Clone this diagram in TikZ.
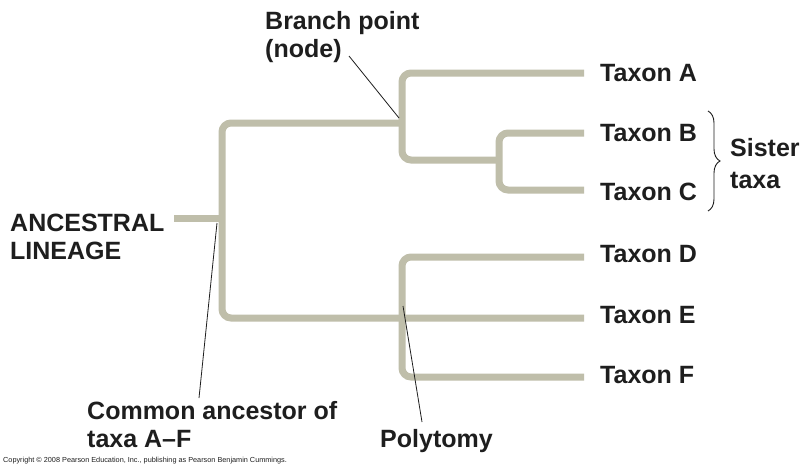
\documentclass[tikz,border=0pt]{standalone}
\usepackage{fontspec}
\setmainfont{Liberation Sans}
\usetikzlibrary{decorations.pathreplacing}
\definecolor{treegray}{RGB}{191,190,170}
\definecolor{ink}{RGB}{30,30,30}
\begin{document}
\begin{tikzpicture}[x=1pt,y=-1pt,
  branch/.style={draw=treegray, line width=7pt, rounded corners=9pt},
  lbl/.style={font=\fontsize{25}{28}\selectfont\bfseries, text=ink, inner sep=0pt, align=left},
  leader/.style={draw=ink, line width=0.8pt},
  bracestyle/.style={draw=ink, line width=0.9pt, decorate,
    decoration={brace, amplitude=12pt, aspect=0.5}}]
\useasboundingbox[fill=white] (0,0) rectangle (805,466);

% tree junctions and leaf ends
\coordinate (root)  at (174,218);
\coordinate (anc)   at (222,218);
\coordinate (ancT)  at (222,123);
\coordinate (ancB)  at (222,318);
\coordinate (nABC)  at (402,123);
\coordinate (nBC)   at (499,160);
\coordinate (nDEF)  at (402,318);
\coordinate (leafA) at (584,73);
\coordinate (leafB) at (584,133);
\coordinate (leafC) at (584,190);
\coordinate (leafD) at (584,257);
\coordinate (leafE) at (584,318);
\coordinate (leafF) at (584,377);

% ancestral lineage and the first split
\draw[branch] (root) -- (anc);
\draw[branch] (nABC) -- (ancT) -- (ancB) -- (leafE);
% clade A,(B,C)
\draw[branch] (leafA) -- (nABC |- leafA) -- (nABC |- nBC) -- (nBC);
\draw[branch] (leafB) -- (nBC |- leafB) -- (nBC |- leafC) -- (leafC);
% polytomy D, E, F
\draw[branch] (leafD) -- (nDEF |- leafD) -- (nDEF |- leafF) -- (leafF);

% taxon labels
\node[lbl, anchor=base west] (tA) at (600,81)  {Taxon A};
\node[lbl, anchor=base west] (tB) at (600,141) {Taxon B};
\node[lbl, anchor=base west] (tC) at (600,200) {Taxon C};
\node[lbl, anchor=base west] (tD) at (600,262) {Taxon D};
\node[lbl, anchor=base west] (tE) at (600,323) {Taxon E};
\node[lbl, anchor=base west] (tF) at (600,383) {Taxon F};

% sister taxa brace
\coordinate (braceTop) at (708,111);
\coordinate (braceBot) at (708,211);
\draw[bracestyle] (braceTop) -- (braceBot);
\node[lbl, anchor=base west] (sister) at (730,156) {Sister};
\node[lbl, anchor=base west] (taxa)   at (730,188) {taxa};

% annotations
\node[lbl, anchor=base west] (bp1) at (265,29) {Branch point};
\node[lbl, anchor=base west] (bp2) at (265,57) {(node)};
\node[lbl, anchor=base west] (al1) at (10,231) {ANCESTRAL};
\node[lbl, anchor=base west] (al2) at (10,259) {LINEAGE};
\node[lbl, anchor=base west] (ca1) at (87,419) {Common ancestor of};
\node[lbl, anchor=base west] (ca2) at (87,447) {taxa A--F};
\node[lbl, anchor=base west] (poly) at (380,447) {Polytomy};

% leader lines
\coordinate (bpStart)   at (349,56);
\coordinate (bpEnd)     at (399,118);
\coordinate (caStart)   at (199,398);
\coordinate (caEnd)     at (217,223);
\coordinate (polyStart) at (422,422);
\coordinate (polyEnd)   at (403,306);
\draw[leader] (bpStart) -- (bpEnd);
\draw[leader] (caStart) -- (caEnd);
\draw[leader] (polyStart) -- (polyEnd);

% copyright line
\node[font=\fontsize{7.3}{8}\selectfont, text=ink, inner sep=0pt, anchor=base west]
  (copy) at (3,462) {Copyright \textcopyright{} 2008 Pearson Education, Inc., publishing as Pearson Benjamin Cummings.};
\end{tikzpicture}
\end{document}
